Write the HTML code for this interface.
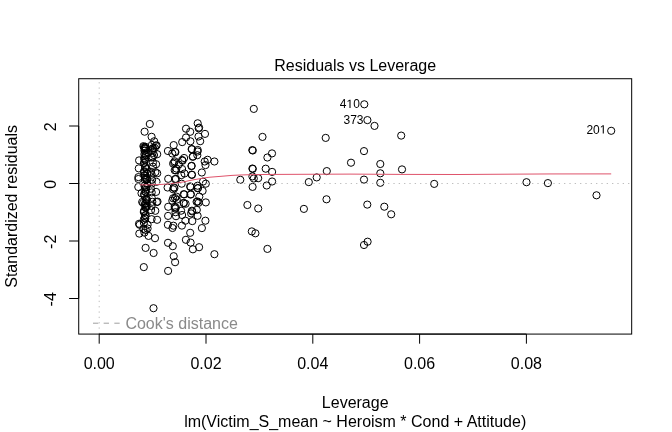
<!DOCTYPE html>
<html><head><meta charset="utf-8"><style>
html,body{margin:0;padding:0;background:#fff;width:672px;height:432px;overflow:hidden}
svg{display:block;will-change:transform}
</style></head><body>
<svg width="672" height="432" viewBox="0 0 672 432">
<rect width="672" height="432" fill="#fff"/>
<g fill="none" stroke="#000" stroke-width="1">
<circle cx="253.8" cy="108.9" r="3.6"/>
<circle cx="262.5" cy="136.9" r="3.6"/>
<circle cx="252.3" cy="150.1" r="3.6"/>
<circle cx="252.8" cy="150.5" r="3.6"/>
<circle cx="272.0" cy="153.4" r="3.6"/>
<circle cx="267.4" cy="157.5" r="3.6"/>
<circle cx="325.7" cy="137.9" r="3.6"/>
<circle cx="252.4" cy="168.5" r="3.6"/>
<circle cx="252.8" cy="168.9" r="3.6"/>
<circle cx="265.7" cy="168.7" r="3.6"/>
<circle cx="272.1" cy="171.9" r="3.6"/>
<circle cx="252.4" cy="176.4" r="3.6"/>
<circle cx="253.8" cy="178.5" r="3.6"/>
<circle cx="258.2" cy="178.2" r="3.6"/>
<circle cx="272.1" cy="181.5" r="3.6"/>
<circle cx="266.7" cy="185.5" r="3.6"/>
<circle cx="252.6" cy="186.9" r="3.6"/>
<circle cx="240.3" cy="179.8" r="3.6"/>
<circle cx="308.8" cy="182.1" r="3.6"/>
<circle cx="316.7" cy="177.4" r="3.6"/>
<circle cx="326.8" cy="171.1" r="3.6"/>
<circle cx="326.5" cy="199.3" r="3.6"/>
<circle cx="303.9" cy="208.9" r="3.6"/>
<circle cx="247.4" cy="205.0" r="3.6"/>
<circle cx="258.2" cy="208.5" r="3.6"/>
<circle cx="251.8" cy="231.4" r="3.6"/>
<circle cx="255.4" cy="233.3" r="3.6"/>
<circle cx="267.4" cy="248.9" r="3.6"/>
<circle cx="364.3" cy="104.3" r="3.6"/>
<circle cx="367.4" cy="120.1" r="3.6"/>
<circle cx="374.5" cy="125.9" r="3.6"/>
<circle cx="401.2" cy="135.6" r="3.6"/>
<circle cx="364.0" cy="151.1" r="3.6"/>
<circle cx="351.0" cy="162.7" r="3.6"/>
<circle cx="380.3" cy="164.0" r="3.6"/>
<circle cx="380.3" cy="173.3" r="3.6"/>
<circle cx="402.0" cy="169.4" r="3.6"/>
<circle cx="364.0" cy="179.6" r="3.6"/>
<circle cx="380.3" cy="182.8" r="3.6"/>
<circle cx="434.2" cy="183.9" r="3.6"/>
<circle cx="367.3" cy="204.6" r="3.6"/>
<circle cx="384.3" cy="206.7" r="3.6"/>
<circle cx="391.2" cy="214.3" r="3.6"/>
<circle cx="367.6" cy="241.7" r="3.6"/>
<circle cx="364.0" cy="245.0" r="3.6"/>
<circle cx="526.5" cy="182.2" r="3.6"/>
<circle cx="547.9" cy="183.1" r="3.6"/>
<circle cx="596.5" cy="195.3" r="3.6"/>
<circle cx="611.2" cy="130.8" r="3.6"/>
<circle cx="149.8" cy="124.0" r="3.6"/>
<circle cx="144.6" cy="131.7" r="3.6"/>
<circle cx="151.6" cy="136.8" r="3.6"/>
<circle cx="154.2" cy="141.3" r="3.6"/>
<circle cx="155.8" cy="145.6" r="3.6"/>
<circle cx="156.6" cy="145.4" r="3.6"/>
<circle cx="151.9" cy="144.9" r="3.6"/>
<circle cx="152.9" cy="148.5" r="3.6"/>
<circle cx="144.0" cy="147.0" r="3.6"/>
<circle cx="143.4" cy="146.2" r="3.6"/>
<circle cx="144.9" cy="148.3" r="3.6"/>
<circle cx="145.5" cy="146.8" r="3.6"/>
<circle cx="157.2" cy="154.2" r="3.6"/>
<circle cx="156.1" cy="164.2" r="3.6"/>
<circle cx="157.2" cy="173.3" r="3.6"/>
<circle cx="155.4" cy="172.2" r="3.6"/>
<circle cx="139.1" cy="160.4" r="3.6"/>
<circle cx="138.8" cy="168.4" r="3.6"/>
<circle cx="138.4" cy="177.1" r="3.6"/>
<circle cx="138.4" cy="179.0" r="3.6"/>
<circle cx="138.3" cy="187.0" r="3.6"/>
<circle cx="141.5" cy="193.3" r="3.6"/>
<circle cx="142.2" cy="202.0" r="3.6"/>
<circle cx="156.5" cy="181.8" r="3.6"/>
<circle cx="156.1" cy="191.9" r="3.6"/>
<circle cx="157.5" cy="201.6" r="3.6"/>
<circle cx="143.2" cy="203.0" r="3.6"/>
<circle cx="156.8" cy="202.1" r="3.6"/>
<circle cx="155.3" cy="210.8" r="3.6"/>
<circle cx="143.8" cy="212.0" r="3.6"/>
<circle cx="151.6" cy="219.2" r="3.6"/>
<circle cx="157.1" cy="219.8" r="3.6"/>
<circle cx="143.8" cy="219.8" r="3.6"/>
<circle cx="139.0" cy="223.8" r="3.6"/>
<circle cx="146.8" cy="206.6" r="3.6"/>
<circle cx="139.7" cy="224.8" r="3.6"/>
<circle cx="143.9" cy="222.9" r="3.6"/>
<circle cx="147.6" cy="224.8" r="3.6"/>
<circle cx="143.4" cy="228.9" r="3.6"/>
<circle cx="145.7" cy="229.9" r="3.6"/>
<circle cx="147.6" cy="228.5" r="3.6"/>
<circle cx="139.3" cy="233.6" r="3.6"/>
<circle cx="144.4" cy="232.6" r="3.6"/>
<circle cx="148.5" cy="235.9" r="3.6"/>
<circle cx="155.0" cy="238.2" r="3.6"/>
<circle cx="145.6" cy="247.9" r="3.6"/>
<circle cx="153.6" cy="253.0" r="3.6"/>
<circle cx="143.8" cy="267.1" r="3.6"/>
<circle cx="153.5" cy="308.2" r="3.6"/>
<circle cx="167.9" cy="224.8" r="3.6"/>
<circle cx="172.5" cy="228.0" r="3.6"/>
<circle cx="168.0" cy="242.8" r="3.6"/>
<circle cx="172.8" cy="246.2" r="3.6"/>
<circle cx="173.7" cy="256.2" r="3.6"/>
<circle cx="175.1" cy="262.2" r="3.6"/>
<circle cx="168.1" cy="270.9" r="3.6"/>
<circle cx="173.4" cy="225.7" r="3.6"/>
<circle cx="181.9" cy="225.6" r="3.6"/>
<circle cx="201.9" cy="228.1" r="3.6"/>
<circle cx="190.2" cy="232.8" r="3.6"/>
<circle cx="185.9" cy="239.8" r="3.6"/>
<circle cx="190.6" cy="242.6" r="3.6"/>
<circle cx="192.9" cy="249.3" r="3.6"/>
<circle cx="199.1" cy="247.2" r="3.6"/>
<circle cx="214.4" cy="254.2" r="3.6"/>
<circle cx="197.7" cy="123.3" r="3.6"/>
<circle cx="199.1" cy="127.6" r="3.6"/>
<circle cx="186.0" cy="128.7" r="3.6"/>
<circle cx="190.2" cy="131.8" r="3.6"/>
<circle cx="205.0" cy="133.9" r="3.6"/>
<circle cx="198.5" cy="136.5" r="3.6"/>
<circle cx="200.2" cy="141.2" r="3.6"/>
<circle cx="186.0" cy="137.5" r="3.6"/>
<circle cx="182.2" cy="142.1" r="3.6"/>
<circle cx="190.4" cy="141.3" r="3.6"/>
<circle cx="173.7" cy="145.1" r="3.6"/>
<circle cx="167.9" cy="151.0" r="3.6"/>
<circle cx="197.7" cy="150.0" r="3.6"/>
<circle cx="172.3" cy="153.5" r="3.6"/>
<circle cx="175.0" cy="151.9" r="3.6"/>
<circle cx="175.4" cy="152.2" r="3.6"/>
<circle cx="197.6" cy="151.5" r="3.6"/>
<circle cx="197.3" cy="155.2" r="3.6"/>
<circle cx="182.1" cy="160.0" r="3.6"/>
<circle cx="184.1" cy="158.0" r="3.6"/>
<circle cx="174.7" cy="161.3" r="3.6"/>
<circle cx="173.1" cy="163.6" r="3.6"/>
<circle cx="176.4" cy="168.6" r="3.6"/>
<circle cx="168.2" cy="178.8" r="3.6"/>
<circle cx="167.6" cy="187.5" r="3.6"/>
<circle cx="174.7" cy="170.2" r="3.6"/>
<circle cx="175.1" cy="179.2" r="3.6"/>
<circle cx="173.9" cy="187.4" r="3.6"/>
<circle cx="182.1" cy="169.0" r="3.6"/>
<circle cx="181.3" cy="175.1" r="3.6"/>
<circle cx="181.7" cy="183.7" r="3.6"/>
<circle cx="184.5" cy="173.5" r="3.6"/>
<circle cx="190.5" cy="187.1" r="3.6"/>
<circle cx="201.8" cy="172.5" r="3.6"/>
<circle cx="203.0" cy="181.6" r="3.6"/>
<circle cx="205.8" cy="183.7" r="3.6"/>
<circle cx="197.6" cy="185.7" r="3.6"/>
<circle cx="178.8" cy="164.5" r="3.6"/>
<circle cx="173.1" cy="189.3" r="3.6"/>
<circle cx="173.1" cy="198.3" r="3.6"/>
<circle cx="172.3" cy="200.7" r="3.6"/>
<circle cx="176.4" cy="196.6" r="3.6"/>
<circle cx="168.2" cy="206.8" r="3.6"/>
<circle cx="174.7" cy="206.9" r="3.6"/>
<circle cx="183.7" cy="194.2" r="3.6"/>
<circle cx="183.6" cy="202.9" r="3.6"/>
<circle cx="183.9" cy="203.2" r="3.6"/>
<circle cx="181.1" cy="210.7" r="3.6"/>
<circle cx="190.6" cy="194.6" r="3.6"/>
<circle cx="198.0" cy="188.0" r="3.6"/>
<circle cx="202.6" cy="190.9" r="3.6"/>
<circle cx="197.6" cy="201.5" r="3.6"/>
<circle cx="199.3" cy="196.6" r="3.6"/>
<circle cx="205.8" cy="202.4" r="3.6"/>
<circle cx="191.9" cy="210.7" r="3.6"/>
<circle cx="196.8" cy="209.9" r="3.6"/>
<circle cx="175.5" cy="212.2" r="3.6"/>
<circle cx="168.1" cy="215.9" r="3.6"/>
<circle cx="176.0" cy="216.2" r="3.6"/>
<circle cx="175.1" cy="208.5" r="3.6"/>
<circle cx="182.1" cy="215.0" r="3.6"/>
<circle cx="185.4" cy="220.7" r="3.6"/>
<circle cx="191.1" cy="213.4" r="3.6"/>
<circle cx="197.6" cy="215.8" r="3.6"/>
<circle cx="192.3" cy="221.1" r="3.6"/>
<circle cx="205.4" cy="220.7" r="3.6"/>
<circle cx="204.7" cy="161.5" r="3.6"/>
<circle cx="207.6" cy="159.8" r="3.6"/>
<circle cx="205.5" cy="165.1" r="3.6"/>
<circle cx="214.4" cy="161.5" r="3.6"/>
<circle cx="174.2" cy="162.6" r="3.6"/>
<circle cx="175.9" cy="170.4" r="3.6"/>
<circle cx="182.6" cy="160.7" r="3.6"/>
<circle cx="175.9" cy="178.9" r="3.6"/>
<circle cx="174.4" cy="188.2" r="3.6"/>
<circle cx="190.2" cy="186.4" r="3.6"/>
<circle cx="197.7" cy="188.3" r="3.6"/>
<circle cx="175.0" cy="198.0" r="3.6"/>
<circle cx="176.8" cy="199.6" r="3.6"/>
<circle cx="175.9" cy="207.6" r="3.6"/>
<circle cx="185.6" cy="203.8" r="3.6"/>
<circle cx="196.6" cy="201.8" r="3.6"/>
<circle cx="198.6" cy="202.8" r="3.6"/>
<circle cx="198.7" cy="128.3" r="3.6"/>
<circle cx="191.7" cy="149.0" r="3.6"/>
<circle cx="191.9" cy="149.3" r="3.6"/>
<circle cx="193.0" cy="156.5" r="3.6"/>
<circle cx="192.7" cy="156.8" r="3.6"/>
<circle cx="191.7" cy="165.8" r="3.6"/>
<circle cx="191.4" cy="166.1" r="3.6"/>
<circle cx="191.7" cy="174.6" r="3.6"/>
<circle cx="192.0" cy="174.9" r="3.6"/>
<circle cx="184.3" cy="194.4" r="3.6"/>
<circle cx="190.9" cy="194.2" r="3.6"/>
<circle cx="192.2" cy="211.4" r="3.6"/>
<circle cx="144.8" cy="147.6" r="3.6"/>
<circle cx="145.4" cy="148.3" r="3.6"/>
<circle cx="144.4" cy="150.6" r="3.6"/>
<circle cx="145.0" cy="150.6" r="3.6"/>
<circle cx="146.0" cy="154.9" r="3.6"/>
<circle cx="145.3" cy="155.2" r="3.6"/>
<circle cx="144.7" cy="159.5" r="3.6"/>
<circle cx="145.2" cy="159.8" r="3.6"/>
<circle cx="144.2" cy="162.7" r="3.6"/>
<circle cx="144.0" cy="163.2" r="3.6"/>
<circle cx="145.2" cy="166.5" r="3.6"/>
<circle cx="145.2" cy="167.6" r="3.6"/>
<circle cx="144.3" cy="171.2" r="3.6"/>
<circle cx="144.0" cy="171.8" r="3.6"/>
<circle cx="145.1" cy="175.3" r="3.6"/>
<circle cx="144.2" cy="175.3" r="3.6"/>
<circle cx="146.8" cy="179.1" r="3.6"/>
<circle cx="147.1" cy="179.5" r="3.6"/>
<circle cx="146.9" cy="183.0" r="3.6"/>
<circle cx="147.3" cy="184.0" r="3.6"/>
<circle cx="145.8" cy="187.3" r="3.6"/>
<circle cx="146.3" cy="186.9" r="3.6"/>
<circle cx="145.2" cy="191.5" r="3.6"/>
<circle cx="145.8" cy="192.2" r="3.6"/>
<circle cx="144.4" cy="195.3" r="3.6"/>
<circle cx="144.1" cy="194.2" r="3.6"/>
<circle cx="146.6" cy="199.0" r="3.6"/>
<circle cx="146.8" cy="199.6" r="3.6"/>
<circle cx="145.7" cy="203.0" r="3.6"/>
<circle cx="146.6" cy="203.5" r="3.6"/>
<circle cx="145.6" cy="207.3" r="3.6"/>
<circle cx="145.7" cy="207.9" r="3.6"/>
<circle cx="144.1" cy="210.8" r="3.6"/>
<circle cx="144.1" cy="211.5" r="3.6"/>
<circle cx="145.2" cy="215.5" r="3.6"/>
<circle cx="145.7" cy="215.1" r="3.6"/>
<circle cx="145.3" cy="218.5" r="3.6"/>
<circle cx="144.7" cy="217.6" r="3.6"/>
<circle cx="144.9" cy="204.0" r="3.6"/>
<circle cx="145.4" cy="149.0" r="3.6"/>
<circle cx="147.4" cy="173.0" r="3.6"/>
<circle cx="144.8" cy="179.8" r="3.6"/>
<circle cx="145.0" cy="177.9" r="3.6"/>
<circle cx="146.0" cy="178.5" r="3.6"/>
<circle cx="146.6" cy="169.1" r="3.6"/>
<circle cx="144.4" cy="154.2" r="3.6"/>
<circle cx="144.5" cy="186.0" r="3.6"/>
<circle cx="145.6" cy="207.0" r="3.6"/>
<circle cx="146.3" cy="199.7" r="3.6"/>
<circle cx="148.4" cy="152.6" r="3.6"/>
<circle cx="144.1" cy="158.2" r="3.6"/>
<circle cx="145.7" cy="189.9" r="3.6"/>
<circle cx="147.3" cy="173.7" r="3.6"/>
<circle cx="152.9" cy="148.2" r="3.6"/>
<circle cx="152.6" cy="152.9" r="3.6"/>
<circle cx="152.7" cy="157.1" r="3.6"/>
<circle cx="152.9" cy="162.6" r="3.6"/>
<circle cx="153.0" cy="166.7" r="3.6"/>
<circle cx="151.0" cy="171.8" r="3.6"/>
<circle cx="151.7" cy="174.7" r="3.6"/>
<circle cx="152.1" cy="179.8" r="3.6"/>
<circle cx="151.7" cy="183.6" r="3.6"/>
<circle cx="150.9" cy="188.7" r="3.6"/>
<circle cx="151.7" cy="192.4" r="3.6"/>
<circle cx="151.7" cy="197.8" r="3.6"/>
<circle cx="152.3" cy="201.8" r="3.6"/>
<circle cx="151.5" cy="206.0" r="3.6"/>
<circle cx="151.1" cy="210.1" r="3.6"/>
<circle cx="152.5" cy="150.0" r="3.6"/>
<circle cx="154.0" cy="155.0" r="3.6"/>
<circle cx="151.5" cy="157.5" r="3.6"/>
<circle cx="154.8" cy="148.0" r="3.6"/>
</g>
<polyline points="139.9,184.9 150,184.8 160,184.5 166,184.1 170,183.7 176,183.1 182,182.1 185,181.6 188,180.9 194,179.7 200,178.7 205,177.8 210,177.2 220,176.4 232,175.4 240,175.0 250,174.7 262,174.5 280,174.4 350,174.1 400,174.4 460,174.5 490,174.3 550,173.95 611.2,173.9" fill="none" stroke="#DF536B" stroke-width="1"/>
<line x1="99.2" y1="334.08" x2="99.2" y2="78.72" stroke="#bebebe" stroke-width="1" stroke-dasharray="1.333 4"/>
<line x1="78.72" y1="183.5" x2="631.68" y2="183.5" stroke="#bebebe" stroke-width="1" stroke-dasharray="1.333 4"/>
<rect x="78.72" y="78.72" width="552.96" height="255.36" fill="none" stroke="#000" stroke-width="1"/>
<line x1="99.2" y1="334.08" x2="526.4" y2="334.08" stroke="#000" stroke-width="1"/>
<line x1="99.20" y1="334.08" x2="99.20" y2="343.68" stroke="#000" stroke-width="1"/>
<line x1="206.00" y1="334.08" x2="206.00" y2="343.68" stroke="#000" stroke-width="1"/>
<line x1="312.80" y1="334.08" x2="312.80" y2="343.68" stroke="#000" stroke-width="1"/>
<line x1="419.60" y1="334.08" x2="419.60" y2="343.68" stroke="#000" stroke-width="1"/>
<line x1="526.40" y1="334.08" x2="526.40" y2="343.68" stroke="#000" stroke-width="1"/>
<line x1="78.72" y1="126.0" x2="78.72" y2="298.5" stroke="#000" stroke-width="1"/>
<line x1="69.12" y1="126.00" x2="78.72" y2="126.00" stroke="#000" stroke-width="1"/>
<line x1="69.12" y1="183.50" x2="78.72" y2="183.50" stroke="#000" stroke-width="1"/>
<line x1="69.12" y1="241.00" x2="78.72" y2="241.00" stroke="#000" stroke-width="1"/>
<line x1="69.12" y1="298.50" x2="78.72" y2="298.50" stroke="#000" stroke-width="1"/>
<g font-family="Liberation Sans, sans-serif" font-size="16" fill="#000" text-anchor="middle">
<text x="99.20" y="369">0.00</text>
<text x="206.00" y="369">0.02</text>
<text x="312.80" y="369">0.04</text>
<text x="419.60" y="369">0.06</text>
<text x="526.40" y="369">0.08</text>
<text transform="translate(56.0 126.80) rotate(-90)" x="0" y="0">2</text>
<text transform="translate(56.0 184.30) rotate(-90)" x="0" y="0">0</text>
<text transform="translate(56.0 241.80) rotate(-90)" x="0" y="0">-2</text>
<text transform="translate(56.0 299.30) rotate(-90)" x="0" y="0">-4</text>
<text transform="translate(16.9 206.4) rotate(-90)">Standardized residuals</text>
<text x="355.2" y="70.6">Residuals vs Leverage</text>
<text x="355.2" y="408">Leverage</text>
<text x="355.2" y="427.0">lm(Victim_S_mean ~ Heroism * Cond + Attitude)</text>
</g>
<g font-family="Liberation Sans, sans-serif" font-size="12" fill="#000">
<text x="339.78" y="108.0">4</text>
<path d="M349.47 108.00 L349.47 100.75 L347.61 102.08 L347.61 101.09 L349.56 99.74 L350.53 99.74 L350.53 108.00 Z"/>
<text x="353.13" y="108.0">0</text>
<text x="343.48" y="123.8">3</text>
<text x="350.16" y="123.8">7</text>
<text x="356.83" y="123.8">3</text>
<text x="586.38" y="133.6">2</text>
<text x="593.06" y="133.6">0</text>
<path d="M602.75 133.60 L602.75 126.35 L600.88 127.68 L600.88 126.69 L602.83 125.34 L603.81 125.34 L603.81 133.60 Z"/>
</g>
<line x1="93" y1="323.2" x2="120" y2="323.2" stroke="#9e9e9e" stroke-width="1" stroke-dasharray="5.333 5.333"/>
<text x="125.4" y="329.2" font-family="Liberation Sans, sans-serif" font-size="16" fill="#8a8a8a">Cook's distance</text>
</svg>
</body></html>
